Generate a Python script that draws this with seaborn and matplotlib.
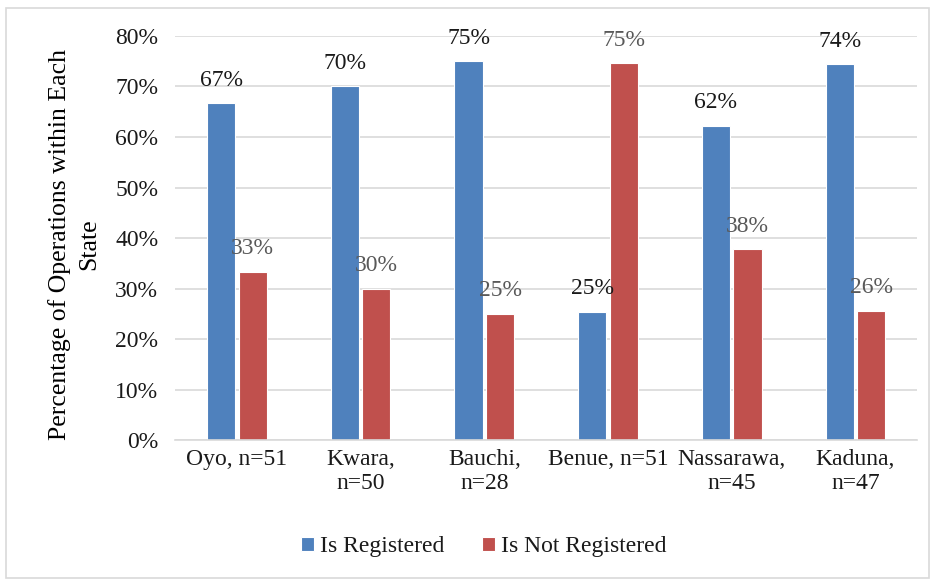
import matplotlib
matplotlib.use('Agg')
import matplotlib.pyplot as plt
import seaborn as sns
import pandas as pd
from matplotlib.patches import Rectangle

# dados
estados = ['Oyo, n=51', 'Kwara,\nn=50', 'Bauchi,\nn=28', 'Benue, n=51', 'Nassarawa,\nn=45', 'Kaduna,\nn=47']
registrado = [0.667, 0.700, 0.750, 0.254, 0.622, 0.744]
nao_registrado = [0.333, 0.300, 0.250, 0.746, 0.378, 0.256]
series = ['Is Registered', 'Is Not Registered']
cores = ['#4F81BD', '#C0504D']
cores_rotulo = ['#1A1A1A', '#595959']
y_ticks = [0, 0.1, 0.2, 0.3, 0.4, 0.5, 0.6, 0.7, 0.8]

df = pd.DataFrame({
    'Estado': estados * 2,
    'Serie': [series[0]] * len(estados) + [series[1]] * len(estados),
    'Valor': registrado + nao_registrado,
})

sns.set_theme(style='white')
fonte = ['Liberation Serif', 'DejaVu Serif']
plt.rcParams['font.family'] = fonte

fig = plt.figure(figsize=(9.36, 5.8), dpi=100)
ax = fig.add_axes([0.187, 0.241, 0.793, 0.697])

# moldura externa
fig.patches.append(Rectangle((0.006, 0.004), 0.986, 0.982, transform=fig.transFigure,
                             fill=False, edgecolor='#D9D9D9', linewidth=1.2))

sns.barplot(data=df, x='Estado', y='Valor', hue='Serie', order=estados, hue_order=series,
            palette=cores, width=0.51, gap=0.11, edgecolor='white', linewidth=0.8,
            saturation=1, ax=ax, zorder=3, legend=False)

for cont, cor in zip(ax.containers, cores_rotulo):
    for barra in cont:
        v = barra.get_height()
        ax.annotate(f'{v:.0%}', (barra.get_x() + barra.get_width() / 2, v),
                    xytext=(0, 23), textcoords='offset pixels', ha='center', va='center',
                    fontsize=17, color=cor, zorder=4)

ax.set_ylim(0, 0.8)
ax.set_xlim(-0.5, len(estados) - 0.5)
ax.set_yticks(y_ticks)
ax.set_yticklabels([f'{t:.0%}' for t in y_ticks])
ax.yaxis.grid(True, color='#D9D9D9', linewidth=1.2, zorder=0)
ax.set_axisbelow(True)
for s in ['top', 'right', 'left']:
    ax.spines[s].set_visible(False)
ax.spines['bottom'].set_color('#D9D9D9')
ax.spines['bottom'].set_linewidth(1.2)
ax.spines['bottom'].set_zorder(5)

ax.tick_params(axis='y', labelsize=17, colors='#1A1A1A', length=0, pad=12)
ax.tick_params(axis='x', labelsize=17, colors='#1A1A1A', length=0, pad=6)
ax.set_xlabel('')
ax.set_ylabel('Percentage of Operations within Each\nState', fontsize=18.5, color='black',
              linespacing=1.4)
ax.yaxis.set_label_coords(-0.101, 0.485)

leg = ax.legend(ax.containers, series, loc='center', bbox_to_anchor=(0.517, 0.057),
                bbox_transform=fig.transFigure, ncol=2, frameon=False,
                prop={'family': fonte, 'size': 17},
                handlelength=0.55, handleheight=0.55, handletextpad=0.25, columnspacing=1.6)
for t in leg.get_texts():
    t.set_color('#1A1A1A')
    t.set_fontfamily(fonte)

fig.savefig('out.png', dpi=100, facecolor='white')
